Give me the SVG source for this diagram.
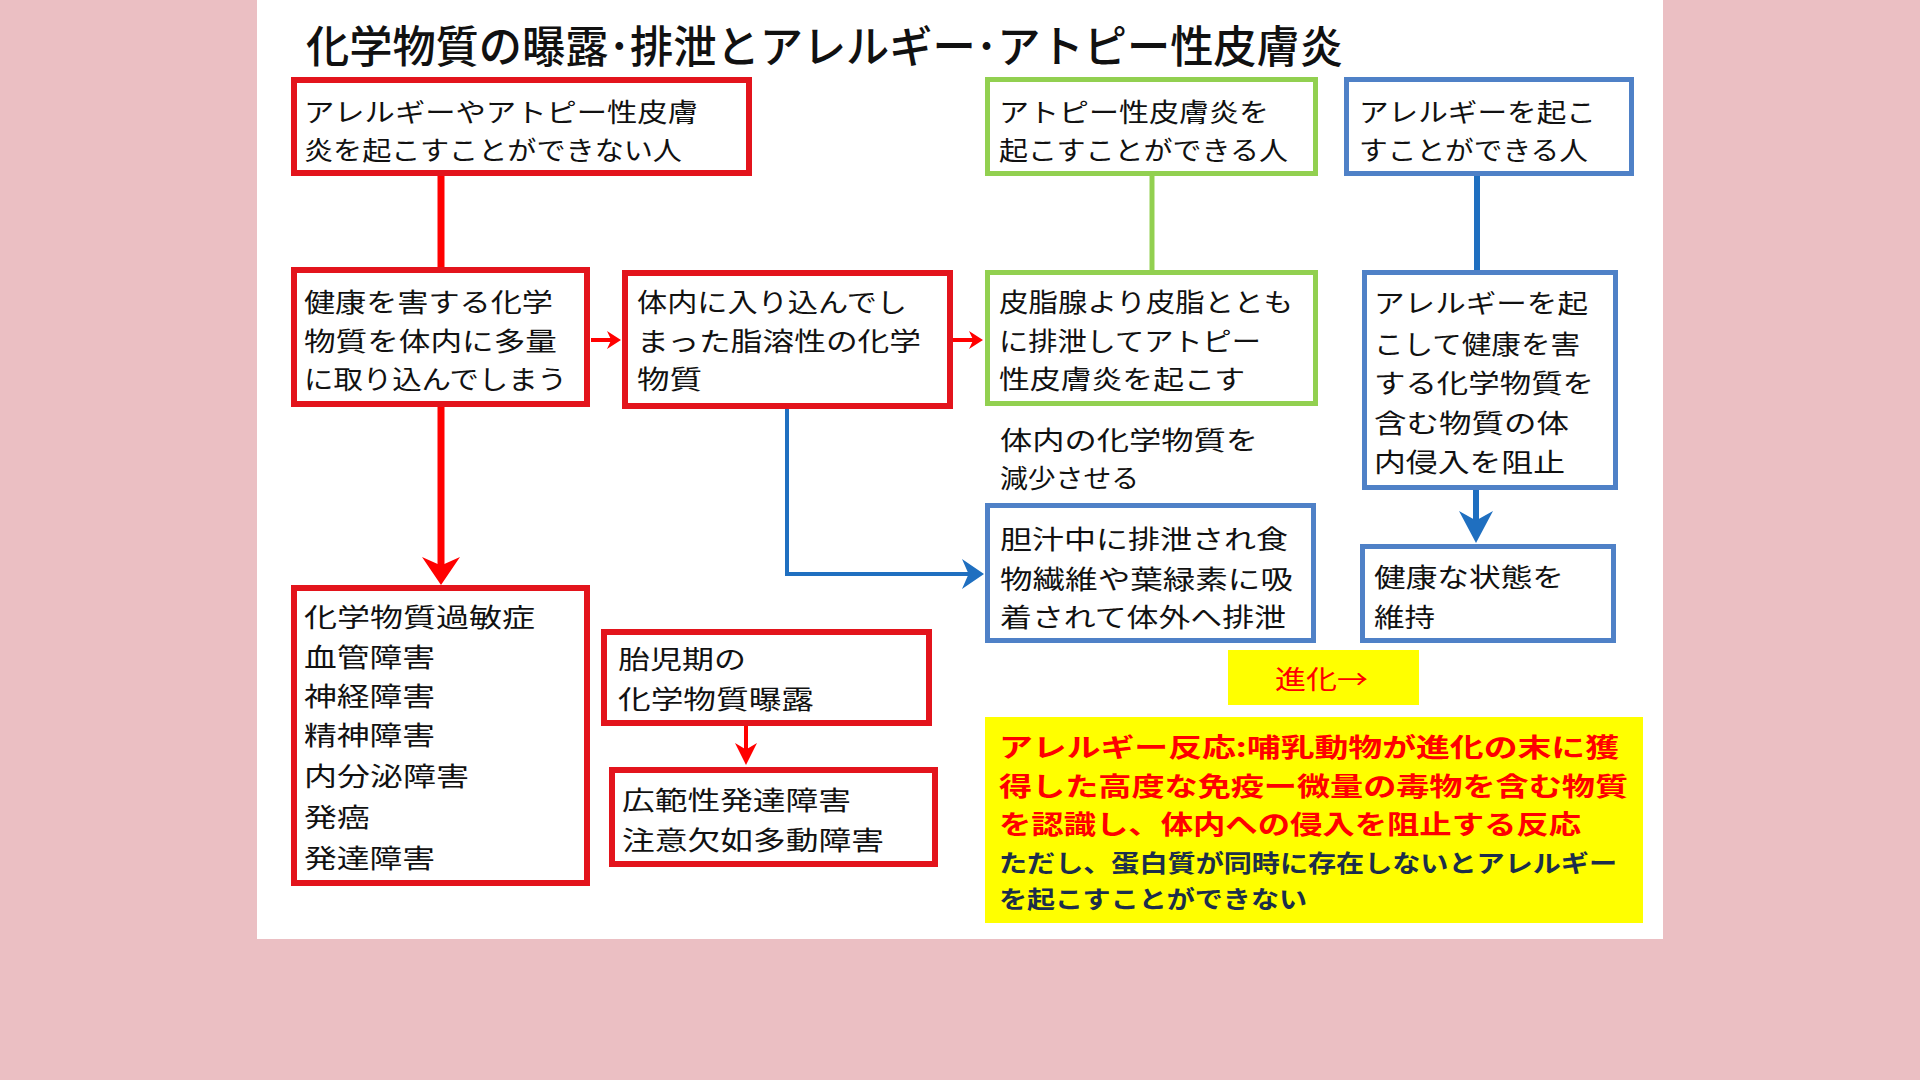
<svg xmlns="http://www.w3.org/2000/svg" width="1920" height="1080" viewBox="0 0 1920 1080">
<style>
.bg{fill:#EBBFC3}
.panel{fill:#FFFFFF}
.rbox{fill:#FFFFFF;stroke:#E3141C;stroke-width:6}
.gbox{fill:#FFFFFF;stroke:#92D050;stroke-width:5}
.bbox{fill:#FFFFFF;stroke:#4F81C7;stroke-width:5}
.ybox{fill:#FFFF00}
text{font-family:"Noto Sans CJK JP","Noto Sans CJK SC",sans-serif;dominant-baseline:central}
.t{font-size:26px;fill:#111111}
.title{font-size:44px;fill:#111111;font-weight:500}
.rb{font-size:26px;fill:#FF0000;font-weight:bold}
.db{font-size:24px;fill:#1C2E4A;font-weight:bold}
.ev{font-size:26px;fill:#FF0000}
.rl{fill:none;stroke:#FF0000}
.gl{fill:none;stroke:#92D050}
.bl{fill:none;stroke:#1F6FC0}
</style>
<defs>
<marker id="ahRedBig" viewBox="0 0 10 10" refX="5" refY="5" markerUnits="userSpaceOnUse" markerWidth="28" markerHeight="38" orient="auto" preserveAspectRatio="none"><path d="M0,0 L10,5 L0,10 L3,5 z" fill="#FF0000"/></marker>
<marker id="ahRedSmall" viewBox="0 0 10 10" refX="5" refY="5" markerUnits="userSpaceOnUse" markerWidth="14" markerHeight="18" orient="auto" preserveAspectRatio="none"><path d="M0,0 L10,5 L0,10 L3,5 z" fill="#FF0000"/></marker>
<marker id="ahRedMid" viewBox="0 0 10 10" refX="5" refY="5" markerUnits="userSpaceOnUse" markerWidth="22" markerHeight="22" orient="auto" preserveAspectRatio="none"><path d="M0,0 L10,5 L0,10 L3,5 z" fill="#FF0000"/></marker>
<marker id="ahBlueR" viewBox="0 0 10 10" refX="5" refY="5" markerUnits="userSpaceOnUse" markerWidth="22" markerHeight="30" orient="auto" preserveAspectRatio="none"><path d="M0,0 L10,5 L0,10 L3,5 z" fill="#1F6FC0"/></marker>
<marker id="ahBlueD" viewBox="0 0 10 10" refX="5" refY="5" markerUnits="userSpaceOnUse" markerWidth="32" markerHeight="34" orient="auto" preserveAspectRatio="none"><path d="M0,0 L10,5 L0,10 L3,5 z" fill="#1F6FC0"/></marker>
</defs>
<rect class="bg" x="0" y="0" width="1920" height="1080"/>
<rect class="panel" x="257" y="0" width="1406" height="939"/>
<text class="title" x="306" y="44" textLength="1037" lengthAdjust="spacingAndGlyphs">化学物質の曝露･排泄とアレルギー･アトピー性皮膚炎</text>

<g id="connectors">
<path class="rl" stroke-width="7" d="M441,176 V268"/>
<path class="gl" stroke-width="5" d="M1152,176 V271"/>
<path class="bl" stroke-width="6" d="M1477,176 V271"/>
<path class="rl" stroke-width="7" d="M441,407 V571" marker-end="url(#ahRedBig)"/>
<path class="rl" stroke-width="4" d="M591,340 H614" marker-end="url(#ahRedSmall)"/>
<path class="rl" stroke-width="4" d="M953,340 H976" marker-end="url(#ahRedSmall)"/>
<path class="bl" stroke-width="4" d="M787,409 V574 H973" marker-end="url(#ahBlueR)"/>
<path class="bl" stroke-width="6" d="M1476,490 V527" marker-end="url(#ahBlueD)"/>
<path class="rl" stroke-width="4" d="M746,726 V754" marker-end="url(#ahRedMid)"/>
</g>

<g id="n1">
<rect class="rbox" x="294" y="80" width="455" height="93"/>
<text class="t" x="304" y="110" textLength="394" lengthAdjust="spacingAndGlyphs">アレルギーやアトピー性皮膚</text>
<text class="t" x="304" y="148" textLength="378" lengthAdjust="spacingAndGlyphs">炎を起こすことができない人</text>
</g>
<g id="n2">
<rect class="gbox" x="987.5" y="79.5" width="328" height="94"/>
<text class="t" x="999" y="110" textLength="270" lengthAdjust="spacingAndGlyphs">アトピー性皮膚炎を</text>
<text class="t" x="999" y="148" textLength="289" lengthAdjust="spacingAndGlyphs">起こすことができる人</text>
</g>
<g id="n3">
<rect class="bbox" x="1346.5" y="79.5" width="285" height="94"/>
<text class="t" x="1359" y="110" textLength="237" lengthAdjust="spacingAndGlyphs">アレルギーを起こ</text>
<text class="t" x="1359" y="148" textLength="229" lengthAdjust="spacingAndGlyphs">すことができる人</text>
</g>
<g id="n4">
<rect class="rbox" x="294" y="270" width="293" height="134"/>
<text class="t" x="304" y="300" textLength="249" lengthAdjust="spacingAndGlyphs">健康を害する化学</text>
<text class="t" x="304" y="339" textLength="253" lengthAdjust="spacingAndGlyphs">物質を体内に多量</text>
<text class="t" x="304" y="377" textLength="263" lengthAdjust="spacingAndGlyphs">に取り込んでしまう</text>
</g>
<g id="n5">
<rect class="rbox" x="625" y="273" width="325" height="133"/>
<text class="t" x="637" y="300" textLength="270" lengthAdjust="spacingAndGlyphs">体内に入り込んでし</text>
<text class="t" x="637" y="339" textLength="284" lengthAdjust="spacingAndGlyphs">まった脂溶性の化学</text>
<text class="t" x="637" y="377" textLength="65" lengthAdjust="spacingAndGlyphs">物質</text>
</g>
<g id="n6">
<rect class="gbox" x="987.5" y="272.5" width="328" height="131"/>
<text class="t" x="999" y="300" textLength="294" lengthAdjust="spacingAndGlyphs">皮脂腺より皮脂ととも</text>
<text class="t" x="999" y="339" textLength="262" lengthAdjust="spacingAndGlyphs">に排泄してアトピー</text>
<text class="t" x="999" y="377" textLength="246" lengthAdjust="spacingAndGlyphs">性皮膚炎を起こす</text>
</g>
<g id="n7">
<rect class="bbox" x="1364.5" y="272.5" width="251" height="215"/>
<text class="t" x="1374" y="301" textLength="214" lengthAdjust="spacingAndGlyphs">アレルギーを起</text>
<text class="t" x="1374" y="342" textLength="206" lengthAdjust="spacingAndGlyphs">こして健康を害</text>
<text class="t" x="1374" y="381" textLength="220" lengthAdjust="spacingAndGlyphs">する化学物質を</text>
<text class="t" x="1374" y="421" textLength="195" lengthAdjust="spacingAndGlyphs">含む物質の体</text>
<text class="t" x="1374" y="460" textLength="191" lengthAdjust="spacingAndGlyphs">内侵入を阻止</text>
</g>
<g id="n8">
<text class="t" x="1000" y="438" textLength="258" lengthAdjust="spacingAndGlyphs">体内の化学物質を</text>
<text class="t" x="1000" y="476" textLength="139" lengthAdjust="spacingAndGlyphs">減少させる</text>
</g>
<g id="n9">
<rect class="bbox" x="987.5" y="505.5" width="326" height="135"/>
<text class="t" x="1000" y="537" textLength="288" lengthAdjust="spacingAndGlyphs">胆汁中に排泄され食</text>
<text class="t" x="1000" y="577" textLength="293" lengthAdjust="spacingAndGlyphs">物繊維や葉緑素に吸</text>
<text class="t" x="1000" y="615" textLength="286" lengthAdjust="spacingAndGlyphs">着されて体外へ排泄</text>
</g>
<g id="n10">
<rect class="bbox" x="1362.5" y="546.5" width="251" height="94"/>
<text class="t" x="1374" y="575" textLength="190" lengthAdjust="spacingAndGlyphs">健康な状態を</text>
<text class="t" x="1374" y="615" textLength="61" lengthAdjust="spacingAndGlyphs">維持</text>
</g>
<g id="n11">
<rect class="rbox" x="294" y="588" width="293" height="295"/>
<text class="t" x="304" y="615" textLength="231" lengthAdjust="spacingAndGlyphs">化学物質過敏症</text>
<text class="t" x="304" y="655" textLength="131" lengthAdjust="spacingAndGlyphs">血管障害</text>
<text class="t" x="304" y="694" textLength="131" lengthAdjust="spacingAndGlyphs">神経障害</text>
<text class="t" x="304" y="733" textLength="131" lengthAdjust="spacingAndGlyphs">精神障害</text>
<text class="t" x="304" y="774" textLength="165" lengthAdjust="spacingAndGlyphs">内分泌障害</text>
<text class="t" x="304" y="815" textLength="66" lengthAdjust="spacingAndGlyphs">発癌</text>
<text class="t" x="304" y="856" textLength="131" lengthAdjust="spacingAndGlyphs">発達障害</text>
</g>
<g id="n12">
<rect class="rbox" x="604" y="632" width="325" height="91"/>
<text class="t" x="618" y="657" textLength="128" lengthAdjust="spacingAndGlyphs">胎児期の</text>
<text class="t" x="618" y="697" textLength="196" lengthAdjust="spacingAndGlyphs">化学物質曝露</text>
</g>
<g id="n13">
<rect class="rbox" x="612" y="770" width="323" height="94"/>
<text class="t" x="622" y="798" textLength="229" lengthAdjust="spacingAndGlyphs">広範性発達障害</text>
<text class="t" x="622" y="838" textLength="262" lengthAdjust="spacingAndGlyphs">注意欠如多動障害</text>
</g>
<g id="n14">
<rect class="ybox" x="1228" y="650" width="191" height="55"/>
<text class="ev" x="1275" y="677" textLength="93" lengthAdjust="spacingAndGlyphs">進化→</text>
</g>
<g id="n15">
<rect class="ybox" x="985" y="717" width="658" height="206"/>
<text class="rb" x="999" y="745" textLength="620" lengthAdjust="spacingAndGlyphs">アレルギー反応:哺乳動物が進化の末に獲</text>
<text class="rb" x="999" y="784" textLength="629" lengthAdjust="spacingAndGlyphs">得した高度な免疫ー微量の毒物を含む物質</text>
<text class="rb" x="999" y="822" textLength="582" lengthAdjust="spacingAndGlyphs">を認識し、体内への侵入を阻止する反応</text>
<text class="db" x="999" y="861" textLength="618" lengthAdjust="spacingAndGlyphs">ただし、蛋白質が同時に存在しないとアレルギー</text>
<text class="db" x="999" y="897" textLength="308" lengthAdjust="spacingAndGlyphs">を起こすことができない</text>
</g>
</svg>
